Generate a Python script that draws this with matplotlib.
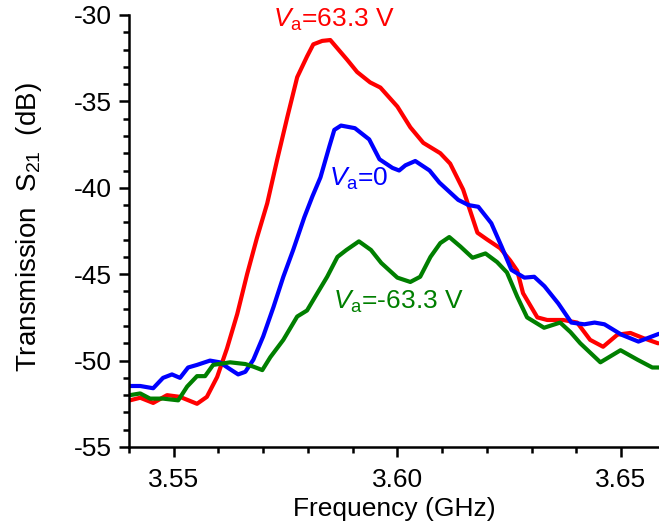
import matplotlib
matplotlib.use("Agg")
import matplotlib.pyplot as plt
from matplotlib.ticker import MultipleLocator, FormatStrFormatter

plt.rcParams["font.family"] = ["Liberation Sans", "DejaVu Sans"]
plt.rcParams["mathtext.fontset"] = "custom"
plt.rcParams["mathtext.rm"] = "Liberation Sans"
plt.rcParams["mathtext.it"] = "Liberation Sans:italic"
plt.rcParams["axes.unicode_minus"] = False

# дані
f_red = [3.5402, 3.5425, 3.5454, 3.5485, 3.5514, 3.5552, 3.5574, 3.5597, 3.5619,
         3.5642, 3.5664, 3.5686, 3.5709, 3.5731, 3.5754, 3.5776, 3.5798, 3.5812,
         3.5832, 3.5850, 3.5888, 3.5910, 3.5939, 3.5962, 3.6000, 3.6029, 3.6058,
         3.6096, 3.6118, 3.6147, 3.6179, 3.6201, 3.6230, 3.6252, 3.6268, 3.6281,
         3.6313, 3.6335, 3.6371, 3.6402, 3.6431, 3.6460, 3.6492, 3.6521, 3.6550,
         3.6583]
s_red = [-52.3, -52.15, -52.45, -52.0, -52.1, -52.5, -52.1, -50.95, -49.3,
         -47.3, -45.0, -42.9, -40.9, -38.4, -35.9, -33.6, -32.4, -31.7,
         -31.5, -31.45, -32.6, -33.3, -33.9, -34.2, -35.3, -36.5, -37.4,
         -38.0, -38.6, -40.1, -42.6, -43.0, -43.5, -44.2, -44.8, -46.1,
         -47.5, -47.65, -47.65, -47.8, -48.8, -49.2, -48.5, -48.4, -48.7,
         -49.0]

f_blue = [3.5402, 3.5425, 3.5454, 3.5476, 3.5496, 3.5514, 3.5532, 3.5552, 3.5581,
          3.5603, 3.5626, 3.5644, 3.5660, 3.5678, 3.5700, 3.5723, 3.5745, 3.5767,
          3.5792, 3.5810, 3.5828, 3.5848, 3.5859, 3.5874, 3.5905, 3.5937, 3.5960,
          3.5989, 3.6004, 3.6018, 3.6040, 3.6072, 3.6094, 3.6136, 3.6159, 3.6181,
          3.6210, 3.6233, 3.6255, 3.6284, 3.6306, 3.6329, 3.6360, 3.6389, 3.6418,
          3.6441, 3.6463, 3.6501, 3.6539, 3.6585]
s_blue = [-51.47, -51.47, -51.6, -51.0, -50.8, -51.0, -50.4, -50.25, -50.0,
          -50.1, -50.5, -50.8, -50.65, -49.95, -48.6, -46.9, -45.15, -43.6,
          -41.7, -40.5, -39.4, -37.6, -36.65, -36.4, -36.55, -37.2, -38.35,
          -38.85, -39.0, -38.7, -38.45, -39.0, -39.7, -40.7, -41.0, -41.1,
          -42.05, -43.4, -44.75, -45.2, -45.15, -45.7, -46.7, -47.8, -47.9,
          -47.8, -47.9, -48.5, -48.9, -48.45]

f_green = [3.5402, 3.5425, 3.5447, 3.5476, 3.5510, 3.5530, 3.5552, 3.5570, 3.5588,
           3.5626, 3.5660, 3.5678, 3.5698, 3.5716, 3.5745, 3.5776, 3.5798, 3.5821,
           3.5843, 3.5866, 3.5886, 3.5914, 3.5941, 3.5964, 3.6000, 3.6029, 3.6051,
           3.6074, 3.6096, 3.6116, 3.6141, 3.6168, 3.6197, 3.6223, 3.6245, 3.6268,
           3.6290, 3.6328, 3.6364, 3.6387, 3.6409, 3.6454, 3.6499, 3.6537, 3.6570,
           3.6585]
s_green = [-52.0, -51.9, -52.2, -52.2, -52.3, -51.5, -50.9, -50.9, -50.25,
           -50.1, -50.2, -50.35, -50.55, -49.8, -48.8, -47.45, -47.1, -46.1,
           -45.15, -44.0, -43.6, -43.1, -43.6, -44.35, -45.2, -45.45, -45.15,
           -44.0, -43.2, -42.85, -43.4, -44.05, -43.8, -44.3, -44.9, -46.3,
           -47.5, -48.1, -47.8, -48.35, -49.0, -50.1, -49.4, -49.95, -50.4,
           -50.4]

fig = plt.figure(figsize=(6.59, 5.31), dpi=100)
ax = fig.add_axes([0.1958, 0.1582, 0.8042, 0.8136])

for f, s, c in [(f_red, s_red, "#ff0000"), (f_blue, s_blue, "#0000ff"),
                (f_green, s_green, "#007f00")]:
    ax.plot(f, s, color=c, lw=3, solid_joinstyle="round", solid_capstyle="round")

ax.set_xlim(3.54, 3.6585)
ax.set_ylim(-55, -30)
ax.xaxis.set_major_locator(MultipleLocator(0.05))
ax.xaxis.set_minor_locator(MultipleLocator(0.01))
ax.xaxis.set_major_formatter(FormatStrFormatter("%.2f"))
ax.yaxis.set_major_locator(MultipleLocator(5))
ax.yaxis.set_minor_locator(MultipleLocator(1))

for side in ["top", "right"]:
    ax.spines[side].set_visible(False)
for side in ["left", "bottom"]:
    ax.spines[side].set_linewidth(1.8)
ax.tick_params(which="major", direction="out", length=7, width=1.8, labelsize=19, pad=5)
ax.tick_params(which="minor", direction="out", length=4, width=1.8)
ax.tick_params(axis="x", which="major", pad=8)

ax.set_xlabel("Frequency (GHz)", fontsize=19, labelpad=4)
ax.set_ylabel(r"Transmission  S$_{\rm 21}$  (dB)", fontsize=20)
ax.yaxis.set_label_coords(-0.16, 0.51)

ax.text(3.5721, -30.7, r"$V_{\rm a}$=63.3 V", color="#ff0000", fontsize=19)
ax.text(3.5847, -39.9, r"$V_{\rm a}$=0", color="#0000ff", fontsize=19)
ax.text(3.5857, -47.0, r"$V_{\rm a}$=-63.3 V", color="#007f00", fontsize=19)

fig.savefig("out.png", dpi=100)
